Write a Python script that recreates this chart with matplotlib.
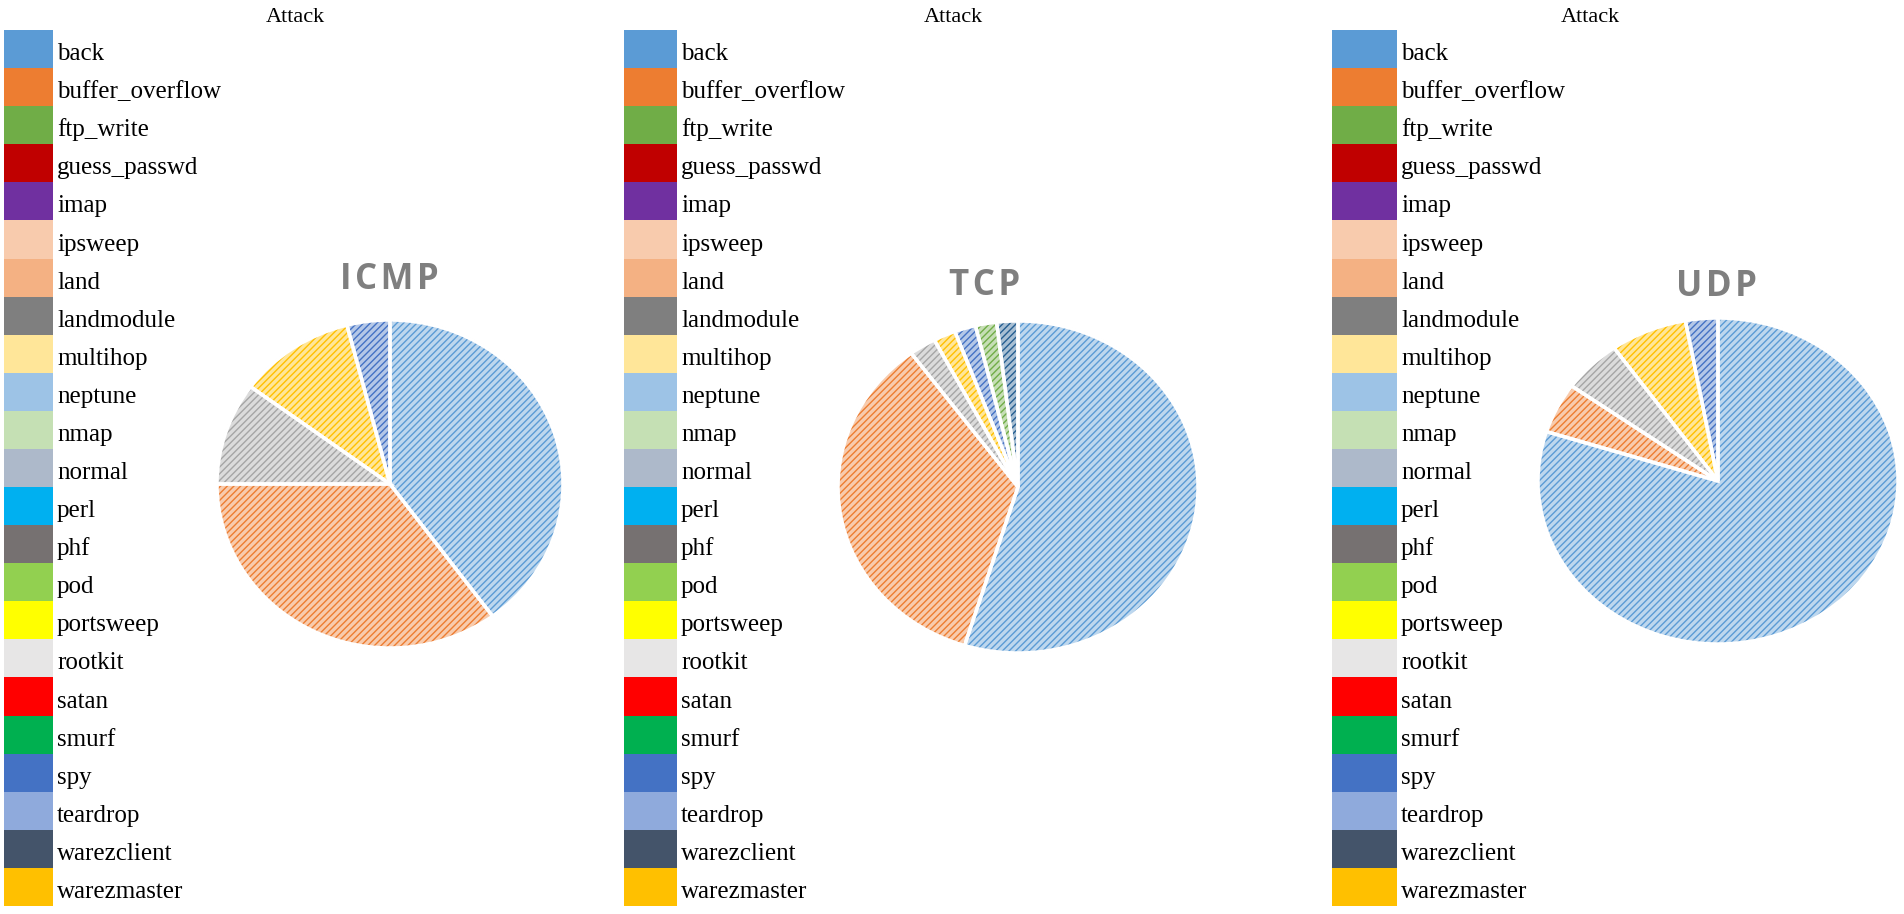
import numpy as np
import matplotlib
matplotlib.use("Agg")
import matplotlib.pyplot as plt
from matplotlib.colors import to_rgb

# ---- data ----
attacks = ["back", "buffer_overflow", "ftp_write", "guess_passwd", "imap",
           "ipsweep", "land", "landmodule", "multihop", "neptune", "nmap",
           "normal", "perl", "phf", "pod", "portsweep", "rootkit", "satan",
           "smurf", "spy", "teardrop", "warezclient", "warezmaster"]
attack_colors = ["#5B9BD5", "#ED7D31", "#70AD47", "#C00000", "#7030A0",
                 "#F8CBAD", "#F4B183", "#7F7F7F", "#FFE699", "#9DC3E6",
                 "#C5E0B4", "#ADB9CA", "#00B0F0", "#767171", "#92D050",
                 "#FFFF00", "#E7E6E6", "#FF0000", "#00B050", "#4472C4",
                 "#8FAADC", "#44546A", "#FFC000"]

# slice shares (%) read clockwise from 12 o'clock
icmp_share = [39.9, 35.1, 10.1, 10.9, 4.0]
tcp_share = [54.8, 35.1, 2.4, 2.0, 1.9, 1.9, 1.9]
udp_share = [79.9, 5.0, 5.3, 6.9, 2.9]
slice_palette = ["#5B9BD5", "#ED7D31", "#A5A5A5", "#FFC000", "#4472C4",
                 "#70AD47", "#255E91"]
icmp_colors = slice_palette[:5]
tcp_colors = slice_palette[:7]
udp_colors = slice_palette[:5]

W, H = 1904, 914
plt.rcParams["hatch.linewidth"] = 1.0
fig = plt.figure(figsize=(W / 100, H / 100), dpi=100)


def px_axes(x0, y0, w, h):
    # pixel box (top-left origin) -> figure fraction
    return fig.add_axes([x0 / W, 1 - (y0 + h) / H, w / W, h / H])


def tint(c, k=0.6):
    r = np.array(to_rgb(c))
    return tuple(r + (1 - r) * k)


def legend_table(box_x, box_w, head_x):
    ax = px_axes(box_x, 30, 300, 876)
    n = len(attacks)
    y = np.arange(n)
    ax.barh(y, [box_w] * n, left=0, height=1.0, color=attack_colors,
            edgecolor="none")
    for i, name in enumerate(attacks):
        ax.text(box_w + 4, i + 0.29, name, ha="left", va="baseline",
                fontsize=18, family="Liberation Serif", color="black")
    ax.set_xlim(0, 300)
    ax.set_ylim(n - 0.5, -0.5)
    ax.axis("off")
    fig.text(head_x / W, 1 - 22 / H, "Attack", ha="center", va="baseline",
             fontsize=16, family="Liberation Serif", color="black")


def hatched_pie(share, colors, cx, cy, rx, ry, title, tx, ty):
    ax = px_axes(cx - rx, cy - ry, 2 * rx, 2 * ry)
    wedges, _ = ax.pie(share, colors=[tint(c) for c in colors], startangle=90,
                       counterclock=False, radius=1,
                       wedgeprops=dict(linewidth=1.0, hatch="/////"))
    for w, c in zip(wedges, colors):
        w.set_edgecolor(c)
    ax.pie(share, colors=["none"] * len(share), startangle=90,
           counterclock=False, radius=1,
           wedgeprops=dict(linewidth=2.5, edgecolor="white", fill=False))
    ax.set_aspect("auto")
    ax.set_xlim(-1.0, 1.0)
    ax.set_ylim(-1.0, 1.0)
    ax.axis("off")
    # spaced-out title like the Excel chart title
    fig.text(tx / W, 1 - ty / H, "\u200a".join(title), ha="center",
             va="center", fontsize=25, fontweight="bold",
             family=["Open Sans", "DejaVu Sans"], color="#7F7F7F")


legend_table(4, 49, 295)
legend_table(624, 53, 953)
legend_table(1332, 65, 1590)

hatched_pie(icmp_share, icmp_colors, 390, 484, 173, 164, "ICMP", 389, 280)
hatched_pie(tcp_share, tcp_colors, 1018, 487, 180, 166, "TCP", 985, 286)
hatched_pie(udp_share, udp_colors, 1718, 481, 180, 163, "UDP", 1716, 287)

fig.savefig("out.png", dpi=100, facecolor="white")
